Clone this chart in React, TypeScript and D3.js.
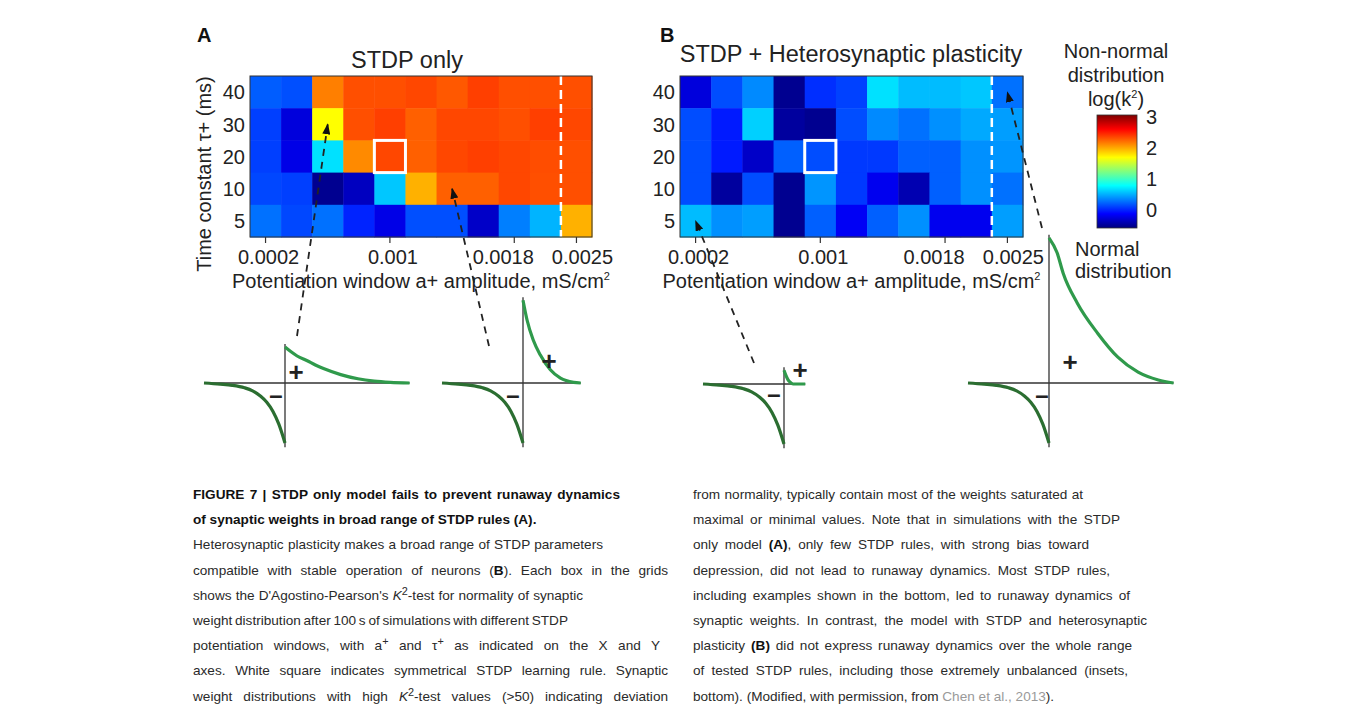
import React, { useEffect, useRef } from 'react';
import * as d3 from 'd3';

// a+ amplitude (mS/cm2) per grid column
const amplitudes = ['0.0002', '0.0004', '0.0006', '0.0008', '0.001', '0.0012', '0.0014', '0.0016', '0.0018', '0.002', '0.0025'];
// tau+ (ms) per grid row, top to bottom
const taus = [40, 30, 20, 10, 5];
const xTicks = ['0.0002', '0.001', '0.0018', '0.0025'];
const colorbarTicks = [0, 1, 2, 3];

// log(k^2) per cell, rows follow taus
const stdpOnly = [
  [0.19, 0.14, 2.14, 2.31, 2.31, 2.34, 2.28, 2.37, 2.31, 2.31, 2.31],
  [0.08, -0.27, 1.68, 2.31, 2.37, 2.25, 2.34, 2.34, 2.31, 2.37, 2.34],
  [0.08, -0.23, 0.66, 2.1, 2.34, 2.25, 2.34, 2.37, 2.34, 2.32, 2.31],
  [0.11, 0.08, -0.54, -0.37, 0.57, 1.96, 2.25, 2.25, 2.34, 2.31, 2.31],
  [0.26, 0.11, 0.26, -0.02, -0.23, 0.14, 0.14, -0.34, 0.31, 0.5, 1.96],
];
const stdpHetero = [
  [-0.27, 0.13, 0.35, -0.54, 0.02, 0.09, 0.66, 0.53, 0.53, 0.57, 0.26],
  [0.13, -0.05, 0.6, -0.49, -0.54, 0.13, 0.35, 0.26, 0.37, 0.46, 0.42],
  [0.13, -0.05, -0.34, 0.2, 0.13, 0.06, 0.06, 0.2, 0.2, 0.37, 0.39],
  [0.13, -0.49, 0.13, -0.54, 0.39, 0.06, -0.2, -0.42, 0.2, 0.37, 0.26],
  [0.53, 0.37, 0.42, -0.54, 0.2, -0.18, 0.2, 0.37, -0.2, -0.2, 0.42],
];
const symmetricCell = { amp: '0.001', tau: 20 };

// STDP windows of the insets: [time ms, weight change]
const depression: [number, number][] = [[-40, 0], [-32, -0.02], [-26, -0.04], [-20, -0.08], [-16, -0.13], [-12, -0.22], [-9, -0.32], [-6, -0.47], [-3, -0.69], [0, -1]];
const potA1: [number, number][] = [[0, 0.6], [3, 0.52], [6, 0.45], [11, 0.37], [15, 0.3], [19, 0.24], [27.5, 0.14], [36, 0.07], [44, 0.03], [52, 0.01], [61.5, 0]];
const potA2: [number, number][] = [[0, 1.38], [2, 1.05], [5, 0.72], [8.5, 0.47], [13.5, 0.22], [18.5, 0.08], [25, 0.01], [28.5, 0]];
const potB1: [number, number][] = [[0, 0.23], [1, 0.14], [2, 0.07], [3, 0.03], [4.5, 0], [10.5, 0]];
const potB2: [number, number][] = [[0, 2.42], [4, 2.17], [7, 1.83], [14, 1.33], [24, 0.83], [34, 0.43], [44, 0.18], [54, 0.05], [61.5, 0]];
const insetWindows = [potA1, potA2, potB1, potB2];
const insetTargets = [
  { panel: 0, amp: '0.0006', tau: 30 },
  { panel: 0, amp: '0.0014', tau: 10 },
  { panel: 1, amp: '0.0002', tau: 5 },
  { panel: 1, amp: '0.0025', tau: 40 },
];

const captionLeft = [
  '*FIGURE 7 | STDP only model fails to prevent runaway dynamics*',
  '*of synaptic weights in broad range of STDP rules (A).*',
  'Heterosynaptic plasticity makes a broad range of STDP parameters',
  'compatible with stable operation of neurons (*B*). Each box in the grids',
  "shows the D'Agostino-Pearson's _K_^2^-test for normality of synaptic",
  'weight distribution after 100\u2009s of simulations with different STDP',
  'potentiation windows, with a^+^ and \u03c4^+^ as indicated on the X and Y',
  'axes. White square indicates symmetrical STDP learning rule. Synaptic',
  'weight distributions with high _K_^2^-test values (>50) indicating deviation',
];
const captionRight = [
  'from normality, typically contain most of the weights saturated at',
  'maximal or minimal values. Note that in simulations with the STDP',
  'only model *(A)*, only few STDP rules, with strong bias toward',
  'depression, did not lead to runaway dynamics. Most STDP rules,',
  'including examples shown in the bottom, led to runaway dynamics of',
  'synaptic weights. In contrast, the model with STDP and heterosynaptic',
  'plasticity *(B)* did not express runaway dynamics over the whole range',
  'of tested STDP rules, including those extremely unbalanced (insets,',
  'bottom). (Modified, with permission, from ~Chen et al., 2013~).',
];

// layout
const FONT = 'Liberation Sans, Arial, Helvetica, sans-serif';
const gridTop = 76;
const gridBottom = 237;
const panelLayout = [
  { label: 'A', title: 'STDP only', x0: 250, x1: 592, labelX: 197, titleX: 407, titleY: 68 },
  { label: 'B', title: 'STDP + Heterosynaptic plasticity', x0: 680, x1: 1023, labelX: 660, titleX: 851, titleY: 62 },
];
const tickLabelDx = [3, 3, -11, 6];
const insetLayout = [
  { ox: 285, oy: 383, tail: [297, 336], plus: [11, -11], minus: [-9, 12] },
  { ox: 523, oy: 383, tail: [489, 346], plus: [26, -22], minus: [-10, 12] },
  { ox: 784, oy: 384, tail: [754, 363], plus: [16, -14], minus: [-10, 10] },
  { ox: 1049, oy: 383, tail: [1042, 228], plus: [21, -21], minus: [-7, 12] },
];
const captionLayout = { leftX: 193, rightX: 693, y0: 499, dy: 25.2, size: 13.6 };
const leftEnds = [620, null, 603, 668, 583, 568, 660, 668, 668];
const rightEnds = [1083, 1120, 1089, 1110, 1130, 1147, 1132, 1128, null];

const cbarDomain: [number, number] = [-0.6, 3.05];
const jetStops = [0, 0.125, 0.375, 0.625, 0.875, 1];
const jetColors = ['#00007f', '#0000ff', '#00ffff', '#ffff00', '#ff0000', '#7f0000'];
const jet = d3.scaleLinear<string>()
  .domain(jetStops.map(t => cbarDomain[0] + t * (cbarDomain[1] - cbarDomain[0])))
  .range(jetColors)
  .interpolate(d3.interpolateRgb)
  .clamp(true);

type Seg = { t: string; bold: boolean; ital: boolean; sup: boolean; grey: boolean };
function parseMarkup(line: string): Seg[] {
  const out: Seg[] = [];
  let bold = false, ital = false, sup = false, grey = false, buf = '';
  const flush = () => { if (buf) out.push({ t: buf, bold, ital, sup, grey }); buf = ''; };
  for (const ch of line) {
    if (ch === '*') { flush(); bold = !bold; }
    else if (ch === '_') { flush(); ital = !ital; }
    else if (ch === '^') { flush(); sup = !sup; }
    else if (ch === '~') { flush(); grey = !grey; }
    else buf += ch;
  }
  flush();
  return out;
}

function CaptionLine({ text, x, y, end }: { text: string; x: number; y: number; end: number | null }) {
  const segs = parseMarkup(text);
  let shifted = false;
  return (
    <text className="cap" x={x} y={y} data-end={end ?? ''} fontFamily={FONT} fontSize={captionLayout.size} fill="#2a2a2a">
      {segs.map((s, i) => {
        let dy = 0;
        if (s.sup && !shifted) { dy = -5; shifted = true; }
        else if (!s.sup && shifted) { dy = 5; shifted = false; }
        return (
          <tspan key={i} dy={dy || undefined} fontWeight={s.bold ? 'bold' : undefined}
            fontStyle={s.ital ? 'italic' : undefined} fill={s.grey ? '#9a9a9a' : s.bold ? '#111' : undefined}
            fontSize={s.sup ? captionLayout.size * 0.8 : undefined}>{s.t}</tspan>
        );
      })}
    </text>
  );
}

export default function App() {
  const svgRef = useRef<SVGSVGElement>(null);

  const yBand = d3.scaleBand<number>().domain(taus).range([gridTop, gridBottom]);
  const xBands = panelLayout.map(p => d3.scaleBand<string>().domain(amplitudes).range([p.x0, p.x1]));
  const cbarY = d3.scaleLinear().domain(cbarDomain).range([228, 115]);

  useEffect(() => {
    // spread words so each caption line reaches its right edge
    d3.select(svgRef.current).selectAll<SVGTextElement, unknown>('text.cap').each(function () {
      const end = +(this.getAttribute('data-end') || 0);
      if (!end) return;
      const x = +(this.getAttribute('x') || 0);
      const len = this.getComputedTextLength();
      const gaps = ((this.textContent || '').match(/ /g) || []).length;
      if (gaps) d3.select(this).style('word-spacing', `${(end - x - len) / gaps}px`);
    });
  }, []);

  const panelValues = [stdpOnly, stdpHetero];

  return (
    <svg ref={svgRef} width={1358} height={712} style={{ position: 'absolute', left: 0, top: 0, background: '#fff' }}>
      <defs>
        <linearGradient id="jetbar" x1="0" y1="1" x2="0" y2="0">
          {jetStops.map((t, i) => <stop key={i} offset={t} stopColor={jetColors[i]} />)}
        </linearGradient>
        <marker id="arrowhead" viewBox="0 0 11 8" refX={10} refY={4} markerWidth={11} markerHeight={8}
          markerUnits="userSpaceOnUse" orient="auto">
          <path d="M0,0 L11,4 L0,8 Z" fill="#111" />
        </marker>
      </defs>

      {panelLayout.map((p, pi) => {
        const xb = xBands[pi];
        const vals = panelValues[pi];
        const sepX = xb(amplitudes[amplitudes.length - 1])!;
        return (
          <g key={p.label} fontFamily={FONT}>
            <text x={p.labelX} y={42} fontSize={20} fontWeight="bold" fill="#111">{p.label}</text>
            <text x={p.titleX} y={p.titleY} fontSize={23.5} textAnchor="middle" fill="#222">{p.title}</text>
            {vals.map((row, ri) => row.map((v, ci) => (
              <rect key={`${ri}-${ci}`} x={xb(amplitudes[ci])} y={yBand(taus[ri])}
                width={xb.bandwidth() + 0.5} height={yBand.bandwidth() + 0.5} fill={jet(v)} />
            )))}
            <line x1={sepX} x2={sepX} y1={gridTop} y2={gridBottom} stroke="#fff" strokeWidth={2.5} strokeDasharray="9,5" />
            <rect x={xb(symmetricCell.amp)} y={yBand(symmetricCell.tau)} width={xb.bandwidth()} height={yBand.bandwidth()}
              fill="none" stroke="#fff" strokeWidth={3} />
            <rect x={p.x0} y={gridTop} width={p.x1 - p.x0} height={gridBottom - gridTop} fill="none" stroke="#333" strokeWidth={1} />
            {taus.map(t => (
              <text key={t} x={p.x0 - 5} y={yBand(t)! + yBand.bandwidth() / 2} dy="0.36em" textAnchor="end"
                fontSize={20} fill="#222">{t}</text>
            ))}
            {xTicks.map((t, i) => {
              const cx = xb(t)! + xb.bandwidth() / 2;
              return (
                <g key={t}>
                  <line x1={cx} x2={cx} y1={gridBottom} y2={gridBottom + 6} stroke="#333" strokeWidth={1.2} />
                  <text x={cx + tickLabelDx[i]} y={264} textAnchor="middle" fontSize={20} fill="#222">{t}</text>
                </g>
              );
            })}
            <text x={(p.x0 + p.x1) / 2} y={288} textAnchor="middle" fontSize={20} fill="#222">
              Potentiation window a+ amplitude, mS/cm<tspan dy={-8} fontSize={11}>2</tspan>
            </text>
          </g>
        );
      })}

      <text transform="translate(211,174) rotate(-90)" textAnchor="middle" fontFamily={FONT} fontSize={20} fill="#222">
        Time constant τ+ (ms)
      </text>

      {/* colour bar */}
      <g fontFamily={FONT} fill="#222">
        <text x={1116} y={58} textAnchor="middle" fontSize={20}>Non-normal</text>
        <text x={1116} y={82} textAnchor="middle" fontSize={20}>distribution</text>
        <text x={1116} y={106} textAnchor="middle" fontSize={20}>log(k<tspan dy={-8} fontSize={11}>2</tspan><tspan dy={8}>)</tspan></text>
        <rect x={1097} y={cbarY(cbarDomain[1])} width={40} height={cbarY(cbarDomain[0]) - cbarY(cbarDomain[1])}
          fill="url(#jetbar)" stroke="#333" strokeWidth={0.8} />
        {colorbarTicks.map(t => (
          <text key={t} x={1146} y={cbarY(t)} dy="0.36em" fontSize={20}>{t}</text>
        ))}
        <text x={1075} y={256} fontSize={20}>Normal</text>
        <text x={1075} y={278} fontSize={20}>distribution</text>
      </g>

      {/* STDP window insets */}
      {insetLayout.map((l, i) => {
        const pot = insetWindows[i];
        const xs = d3.scaleLinear().domain([-40, 0]).range([l.ox - 81, l.ox]);
        const ys = d3.scaleLinear().domain([-1, 0]).range([l.oy + 60, l.oy]);
        const line = d3.line<[number, number]>().x(d => xs(d[0])).y(d => ys(d[1])).curve(d3.curveMonotoneX);
        const tEnd = pot[pot.length - 1][0];
        const top = (d3.max(pot, d => d[1]) || 0) + 0.05;
        const tg = insetTargets[i];
        const xb = xBands[tg.panel];
        const hx = xb(tg.amp)! + xb.bandwidth() / 2;
        const hy = yBand(tg.tau)! + yBand.bandwidth() / 2;
        return (
          <g key={i}>
            <line x1={xs(-40)} x2={xs(tEnd)} y1={ys(0)} y2={ys(0)} stroke="#333" strokeWidth={1.3} />
            <line x1={xs(0)} x2={xs(0)} y1={ys(top)} y2={ys(-1.07)} stroke="#333" strokeWidth={1.3} />
            <path d={line(depression) || ''} fill="none" stroke="#2b6e31" strokeWidth={3.2} />
            <path d={line(pot) || ''} fill="none" stroke="#2f9a4b" strokeWidth={3.2} />
            <text x={l.ox + l.plus[0]} y={l.oy + l.plus[1]} dy="0.35em" textAnchor="middle" fontFamily={FONT}
              fontSize={26} fontWeight="bold" fill="#222">+</text>
            <text x={l.ox + l.minus[0]} y={l.oy + l.minus[1]} dy="0.35em" textAnchor="middle" fontFamily={FONT}
              fontSize={24} fontWeight="bold" fill="#222">–</text>
            <line x1={l.tail[0]} y1={l.tail[1]} x2={hx} y2={hy} stroke="#222" strokeWidth={1.8}
              strokeDasharray="7,6" markerEnd="url(#arrowhead)" />
          </g>
        );
      })}

      {/* caption */}
      {captionLeft.map((t, i) => (
        <CaptionLine key={`l${i}`} text={t} x={captionLayout.leftX} y={captionLayout.y0 + i * captionLayout.dy} end={leftEnds[i]} />
      ))}
      {captionRight.map((t, i) => (
        <CaptionLine key={`r${i}`} text={t} x={captionLayout.rightX} y={captionLayout.y0 + i * captionLayout.dy} end={rightEnds[i]} />
      ))}
    </svg>
  );
}
